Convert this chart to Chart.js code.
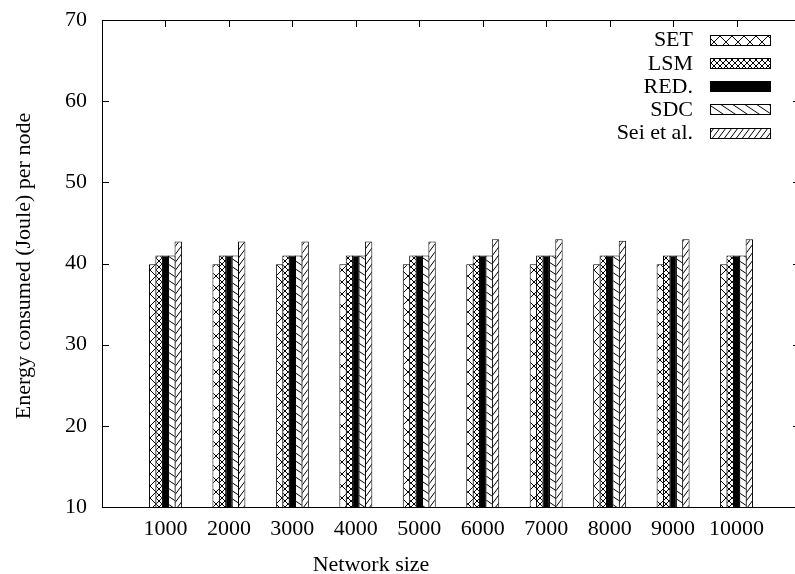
<!DOCTYPE html>
<html>
<head>
<meta charset="utf-8">
<script src="https://cdn.jsdelivr.net/npm/chart.js@4.4.0/dist/chart.umd.min.js"></script>
<style>
    html, body { margin: 0; padding: 0; background: #fff; overflow: hidden; }
    #wrap { width: 795px; height: 574px; overflow: hidden; }
    canvas { display: block; }
</style>
</head>
<body>
<div id="wrap"><canvas id="chart" width="806" height="574"></canvas></div>
<script>
const NetworkSizes = ['1000', '2000', '3000', '4000', '5000', '6000', '7000', '8000', '9000', '10000'];
const SeriesNames = ['SET', 'LSM', 'RED.', 'SDC', 'Sei et al.'];
const SetValues = [39.9, 39.9, 39.9, 39.9, 39.9, 39.9, 39.9, 39.9, 39.9, 39.9];
const LsmValues = [41.0, 41.0, 41.0, 41.0, 41.0, 41.0, 41.0, 41.0, 41.0, 41.0];
const RedValues = [41.0, 41.0, 41.0, 41.0, 41.0, 41.0, 41.0, 41.0, 41.0, 41.0];
const SdcValues = [41.0, 41.0, 41.0, 41.0, 41.0, 41.0, 41.0, 41.0, 41.0, 41.0];
const SeiValues = [42.7, 42.7, 42.7, 42.7, 42.7, 43.0, 43.0, 42.8, 43.0, 43.0];
const YTicks = [10, 20, 30, 40, 50, 60, 70];

const FONT = '22px "Liberation Serif", "Times New Roman", serif';

// gnuplot-like fill patterns
function MakePattern(w, h, draw){
    const c = document.createElement('canvas');
    c.width = w; c.height = h;
    const g = c.getContext('2d');
    g.fillStyle = '#fff';
    g.fillRect(0, 0, w, h);
    g.strokeStyle = '#000';
    g.lineWidth = 1;
    draw(g, w, h);
    return g.createPattern(c, 'repeat');
}
function Lines(g, w, h, down){
    for (let k = -2; k <= 2; k++) {
        g.beginPath();
        if (down) { g.moveTo(k * w - w, -h); g.lineTo(k * w + 2 * w, 2 * h); }
        else      { g.moveTo(k * w - w, 2 * h); g.lineTo(k * w + 2 * w, -h); }
        g.stroke();
    }
}
const Fills = [
    MakePattern(12, 12, (g, w, h) => { Lines(g, w, h, true); Lines(g, w, h, false); }),
    MakePattern(6, 6, (g, w, h) => { Lines(g, w, h, true); Lines(g, w, h, false); }),
    '#000',
    MakePattern(12, 8, (g, w, h) => Lines(g, w, h, true)),
    MakePattern(6, 8, (g, w, h) => Lines(g, w, h, false))
];

// empty slots at both ends so the range runs 0..11 like the original
const pad = arr => [null, ...arr, null];
const labels = ['', ...NetworkSizes, ''];
const allValues = [SetValues, LsmValues, RedValues, SdcValues, SeiValues];

const FramePlugin = {
    id: 'frame',
    afterDraw(chart) {
        const {ctx, chartArea: a, scales: {x, y}} = chart;
        ctx.save();
        ctx.strokeStyle = '#000';
        ctx.lineWidth = 1;
        ctx.strokeRect(a.left + 0.5, a.top + 0.5, a.right - a.left, a.bottom - a.top);

        // inward ticks, mirrored on top/right
        ctx.beginPath();
        YTicks.forEach(v => {
            const py = Math.round(y.getPixelForValue(v)) + 0.5;
            ctx.moveTo(a.left, py); ctx.lineTo(a.left + 7, py);
            ctx.moveTo(a.right, py); ctx.lineTo(a.right - 7, py);
        });
        NetworkSizes.forEach((s, i) => {
            const px = Math.round(x.getPixelForValue(i + 1)) + 0.5;
            ctx.moveTo(px, a.bottom); ctx.lineTo(px, a.bottom - 7);
            ctx.moveTo(px, a.top); ctx.lineTo(px, a.top + 7);
        });
        ctx.stroke();

        // key
        ctx.font = FONT;
        ctx.textAlign = 'right';
        ctx.textBaseline = 'middle';
        chart.data.datasets.forEach((ds, i) => {
            const cy = 39.5 + i * 23.3;
            ctx.fillStyle = '#000';
            ctx.fillText(ds.label, 693, cy + 1);
            const top = Math.round(cy - 5) + 0.5;
            ctx.fillStyle = ds.backgroundColor;
            ctx.fillRect(710.5, top, 60, 10);
            ctx.strokeRect(710.5, top, 60, 10);
        });

        // axis titles
        ctx.fillStyle = '#000';
        ctx.textAlign = 'center';
        ctx.textBaseline = 'alphabetic';
        ctx.fillText('Network size', 371, 571);
        ctx.translate(29.5, 266);
        ctx.rotate(-Math.PI / 2);
        ctx.fillText('Energy consumed (Joule) per node', 0, 0);
        ctx.restore();
    }
};

new Chart(document.getElementById('chart'), {
    type: 'bar',
    data: {
        labels: labels,
        datasets: SeriesNames.map((name, i) => ({
            label: name,
            data: pad(allValues[i]),
            backgroundColor: Fills[i],
            borderColor: '#000',
            borderWidth: 1,
            borderSkipped: 'start',
            base: 10,
            categoryPercentage: 0.504,
            barPercentage: 1.156
        }))
    },
    options: {
        responsive: false,
        animation: false,
        devicePixelRatio: 1,
        layout: { padding: { top: 20, right: 6, left: 0, bottom: 0 } },
        plugins: {
            legend: { display: false },
            tooltip: { enabled: false }
        },
        scales: {
            x: {
                offset: false,
                grid: { display: false, drawTicks: false },
                border: { display: false },
                ticks: {
                    color: '#000',
                    font: { family: '"Liberation Serif"', size: 22 },
                    padding: 9,
                    autoSkip: false,
                    maxRotation: 0
                },
                afterFit(scale) {
                    scale.height = 67;
                    scale.paddingLeft = 0;
                    scale.paddingRight = 0;
                }
            },
            y: {
                min: 10,
                max: 70,
                grid: { display: false, drawTicks: false },
                border: { display: false },
                ticks: {
                    stepSize: 10,
                    color: '#000',
                    font: { family: '"Liberation Serif"', size: 22 },
                    padding: 15
                },
                afterFit(scale) {
                    scale.width = 102;
                    scale.paddingTop = 0;
                    scale.paddingBottom = 0;
                }
            }
        }
    },
    plugins: [FramePlugin]
});
</script>
</body>
</html>
